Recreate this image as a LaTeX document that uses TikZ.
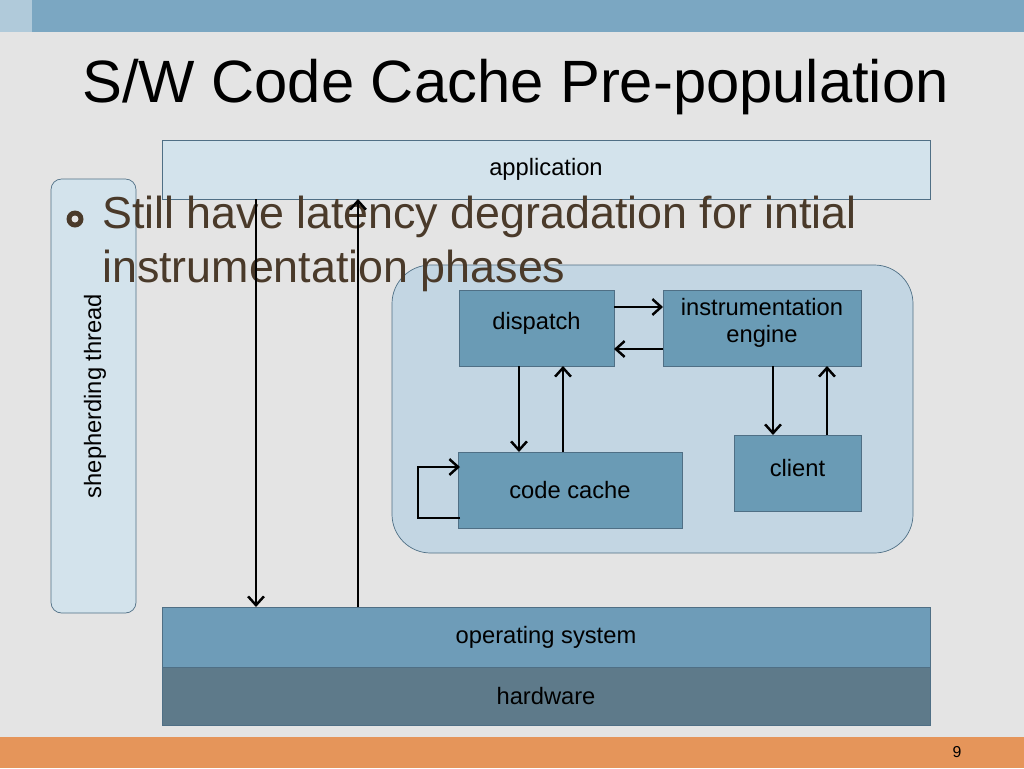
\documentclass[tikz,border=0pt]{standalone}
\usepackage{fontspec}
\setmainfont{Liberation Sans}
\usetikzlibrary{arrows.meta}
\definecolor{bgrey}{HTML}{E4E4E4}
\definecolor{topbar}{HTML}{7BA7C2}
\definecolor{botbar}{HTML}{E5955A}
\definecolor{lightbox}{HTML}{D3E3EC}
\definecolor{region}{HTML}{C3D6E3}
\definecolor{midbox}{HTML}{6A9BB5}
\definecolor{osbox}{HTML}{6E9CB8}
\definecolor{hwbox}{HTML}{5E7A8A}
\definecolor{edge}{HTML}{4F6F85}
\definecolor{brownish}{HTML}{4A3A2A}
\tikzset{
  lightbox/.style={draw=edge,fill=lightbox,inner sep=0pt},
  comp/.style={draw=edge,fill=midbox,inner sep=0pt,font=\fontsize{13.5}{15}\selectfont,align=center},
  flow/.style={-{Straight Barb[length=5pt,width=9pt,line width=1.4pt]},line width=1.4pt}
}
\begin{document}
\begin{tikzpicture}[x=0.02cm,y=-0.02cm]
		\useasboundingbox (0,0) rectangle (1024,768);
		\fill[bgrey] (0,0) rectangle (1024,768);
		\fill[topbar] (0,0) rectangle (1024,32);
		\fill[topbar!60] (0,0) rectangle (32,32);
		\fill[botbar] (0,737) rectangle (1024,768);
		\node (pg) at (957,752) {\fontsize{9}{10}\selectfont 9};
		\node[anchor=west] (title) at (76,87) {\fontsize{34}{37}\selectfont S/W Code Cache Pre-population};

		\draw[lightbox] (162,140) rectangle (930,199) node[midway,font=\fontsize{13.5}{15}\selectfont] (app) {application};
		\draw[lightbox,rounded corners=6pt] (51,179) rectangle (136,613);
		\node[rotate=90,font=\fontsize{13.5}{15}\selectfont] (shep) at (95,396) {shepherding thread};
		\draw[draw=edge,fill=region,rounded corners=22pt] (392,265) rectangle (913,553);

		\draw[comp] (459,290) rectangle (614,366) node[midway,yshift=0.1cm] (disp) {dispatch};
		\draw[comp] (663,290) rectangle (861,366) node[midway,yshift=0.1cm] (eng) {instrumentation\\engine};
		\draw[comp] (458,452) rectangle (682,528) node[midway] (cache) {code cache};
		\draw[comp] (734,435) rectangle (861,511) node[midway,yshift=0.1cm] (client) {client};

		\draw[comp,fill=osbox] (162,607) rectangle (930,667) node[midway] (os) {operating system};
		\draw[comp,fill=hwbox] (162,667) rectangle (930,725) node[midway] (hw) {hardware};

		% bullet text
		\fill[brownish] (75,219) circle (8.5);
		\fill[bgrey] (75,219) circle (3.5);
		\node[anchor=base west,text=brownish,font=\fontsize{25.5}{28}\selectfont] (b1) at (96,228) {Still have latency degradation for intial};
		\node[anchor=base west,text=brownish,font=\fontsize{25.5}{28}\selectfont] (b2) at (96,282) {instrumentation phases};

		% connectors
		\coordinate (a1) at (256,199); \coordinate (o1) at (256,607);
		\coordinate (a2) at (358,199); \coordinate (o2) at (358,607);
		\draw[flow] (a1) -- (o1);
		\draw[flow] (o2) -- (a2);
		\draw[flow] (614,307) -- (663,307);
		\draw[flow] (663,349) -- (614,349);
		\draw[flow] (519,366) -- (519,452);
		\draw[flow] (563,452) -- (563,366);
		\draw[flow] (773,366) -- (773,435);
		\draw[flow] (827,435) -- (827,366);
		\draw[flow] (460,518) -- (418,518) -- (418,467) -- (460,467);
		\end{tikzpicture}
\end{document}
